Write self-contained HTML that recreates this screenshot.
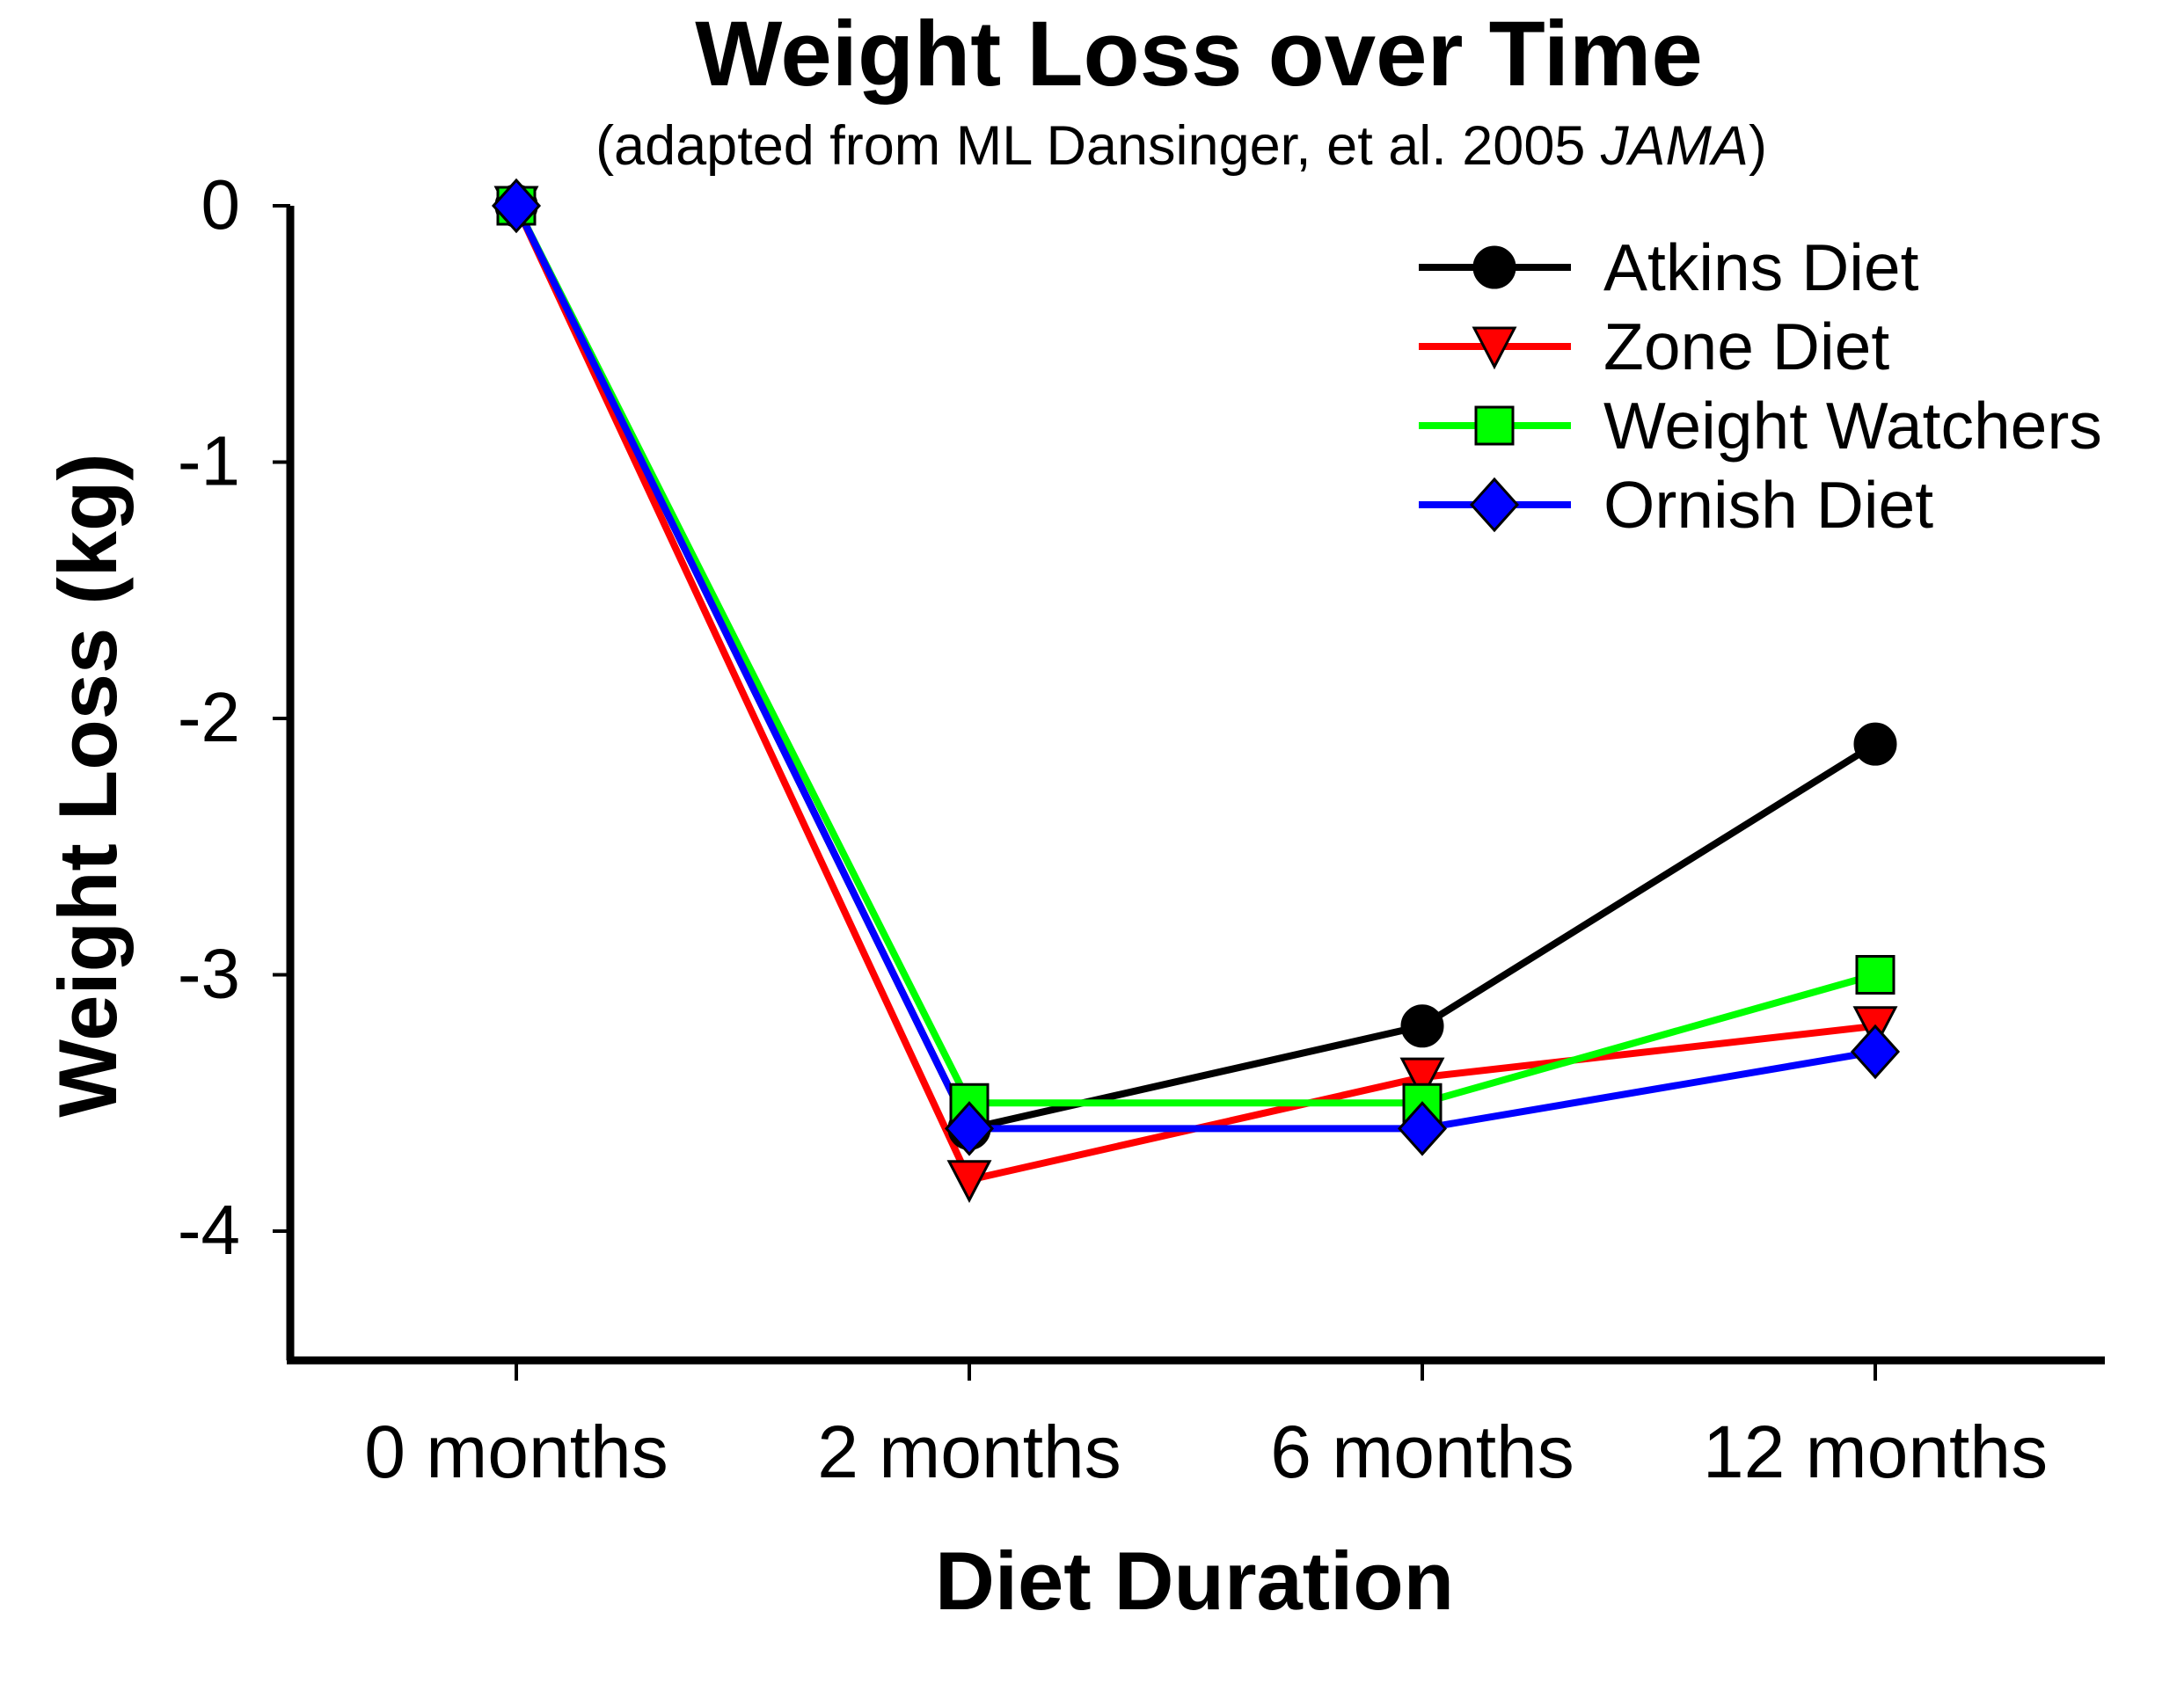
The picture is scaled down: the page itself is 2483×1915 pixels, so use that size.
<!DOCTYPE html>
<html><head><meta charset="utf-8"><style>
html,body{margin:0;padding:0;background:#fff;}
svg{display:block;font-family:"Liberation Sans",Arial,sans-serif;}
</style></head><body>
<svg id="chart" width="2483" height="1915" viewBox="0 0 2483 1915" xmlns="http://www.w3.org/2000/svg">
<text x="1363" y="97" text-anchor="middle" font-size="105" font-weight="bold">Weight Loss over Time</text>
<text x="1343" y="187" text-anchor="middle" font-size="63">(adapted from ML Dansinger, et al. 2005 <tspan font-style="italic">JAMA</tspan>)</text>
<text transform="translate(132,893) rotate(-90)" text-anchor="middle" font-size="94" font-weight="bold">Weight Loss (kg)</text>
<text x="1358" y="1830" text-anchor="middle" font-size="94" font-weight="bold">Diet Duration</text>
<g id="axes"></g>
<g id="series"></g>
<g id="legend"></g>
</svg>
<script>
const categories = ["0 months","2 months","6 months","12 months"];
const yTicks = [0,-1,-2,-3,-4];
const seriesNames = ["Atkins Diet","Zone Diet","Weight Watchers","Ornish Diet"];
const atkins = [0,-3.6,-3.2,-2.1];
const zone = [0,-3.8,-3.4,-3.2];
const weightWatchers = [0,-3.5,-3.5,-3.0];
const ornish = [0,-3.6,-3.6,-3.3];

const NS="http://www.w3.org/2000/svg";
const x0=587, xStep=515, y0=234, yUnit=291.5;
function xs(i){return x0+i*xStep;}
function ys(v){return y0-v*yUnit;}
function mk(tag,attrs,parent){const e=document.createElementNS(NS,tag);for(const k in attrs)e.setAttribute(k,attrs[k]);parent.appendChild(e);return e;}

const axes=document.getElementById('axes');
const yAxis=mk('path',{d:`M330,${y0} V1547`,stroke:'#000','stroke-width':9,fill:'none'},axes);


const xAxis=mk('path',{d:`M326,1547 H2393`,stroke:'#000','stroke-width':9,fill:'none'},axes);


yTicks.forEach(v=>{
  const t=mk('line',{x1:310,x2:330,y1:ys(v),y2:ys(v),stroke:'#000','stroke-width':4},axes);
  
  
  const l=mk('text',{x:273,y:ys(v)+26,'text-anchor':'end','font-size':80},axes);
  l.textContent=String(v);
  
  
});
categories.forEach((c,i)=>{
  const t=mk('line',{x1:xs(i),x2:xs(i),y1:1547,y2:1570,stroke:'#000','stroke-width':4},axes);
  
  
  const l=mk('text',{x:xs(i),y:1680,'text-anchor':'middle','font-size':84},axes);
  l.textContent=c;
  
  
});

function marker(type,x,y,fill,parent){
  let e;
  if(type==='circle') e=mk('circle',{cx:x,cy:y,r:23,fill:fill,stroke:'#000','stroke-width':3},parent);
  else if(type==='tri') e=mk('path',{d:`M${x-23},${y-21} L${x+23},${y-21} L${x},${y+23} Z`,fill:fill,stroke:'#000','stroke-width':3},parent);
  else if(type==='square') e=mk('rect',{x:x-21,y:y-21,width:42,height:42,fill:fill,stroke:'#000','stroke-width':3},parent);
  else e=mk('path',{d:`M${x},${y-29} L${x+26},${y} L${x},${y+29} L${x-26},${y} Z`,fill:fill,stroke:'#000','stroke-width':3},parent);
  return e;
}
const allSeries=[atkins,zone,weightWatchers,ornish];
const colors=['#000','#ff0000','#00ff00','#0000ff'];
const types=['circle','tri','square','diamond'];
const sg=document.getElementById('series');
allSeries.forEach((vals,s)=>{
  const g=mk('g',{},sg);
  
  
  const line=mk('polyline',{points:vals.map((v,i)=>xs(i)+','+ys(v)).join(' '),fill:'none',stroke:colors[s],'stroke-width':8},g);
  
  
});
allSeries.forEach((vals,s)=>{
  vals.forEach((v,i)=>{
    const m=marker(types[s],xs(i),ys(v),colors[s],sg);
    
    
  });
});
const lg=document.getElementById('legend');


seriesNames.forEach((n,s)=>{
  const y=304+s*90;
  const g=mk('g',{},lg);
  
  
  mk('line',{x1:1613,x2:1786,y1:y,y2:y,stroke:colors[s],'stroke-width':8},g);
  marker(types[s],1699,y,colors[s],g);
  const t=mk('text',{x:1823,y:y+26,'font-size':75},g);
  t.textContent=n;
});
</script>
</body></html>
